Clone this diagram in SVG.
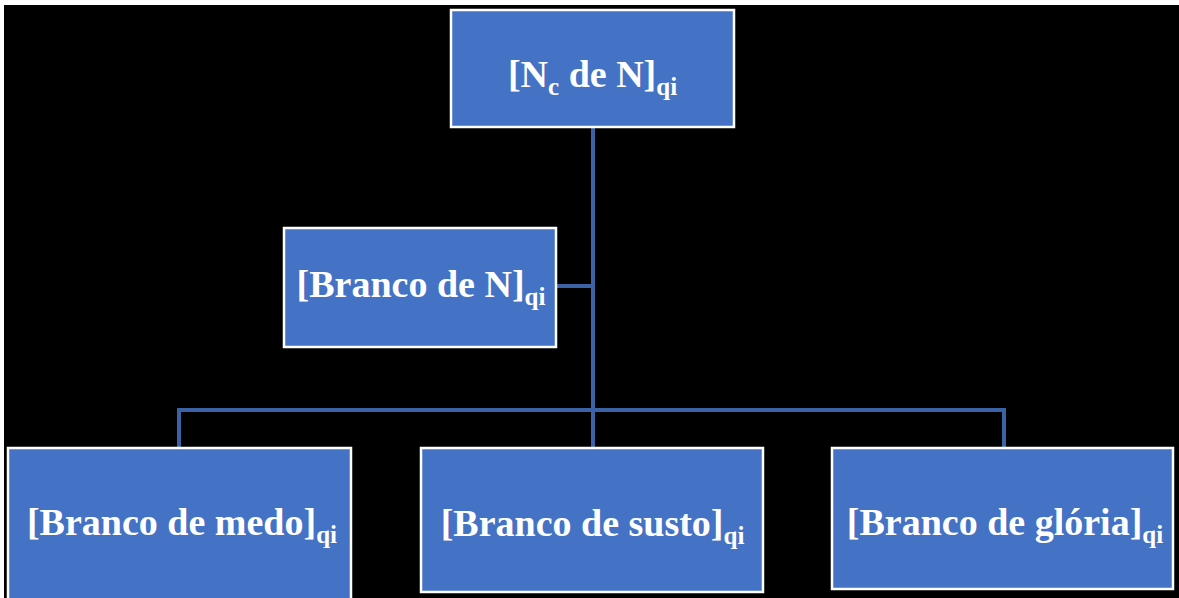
<svg xmlns="http://www.w3.org/2000/svg" width="1179" height="598" viewBox="0 0 1179 598">
<style>
.box{fill:#4472C4;stroke:#FFFFFF;stroke-width:2.5}
.lbl{font-family:"Liberation Serif","Times New Roman",serif;font-weight:bold;font-size:38px;fill:#FFFFFF;text-anchor:middle}
.sub{font-size:25px}
.conn{fill:none;stroke:#3A62A7;stroke-width:4}
</style>
<rect x="0" y="0" width="1179" height="598" fill="#000000"/>
<rect x="0" y="0" width="1179" height="5" fill="#FFFFFF"/>
<rect x="0" y="0" width="4" height="598" fill="#FFFFFF"/>
<g id="connectors">
<path class="conn" d="M593 127 V447"/>
<path class="conn" d="M557 286 H593"/>
<path class="conn" d="M179 447 V410 H1004 V447"/>
</g>
<g id="node-top">
<rect class="box" x="451" y="10" width="283" height="117"/>
<text class="lbl" x="592.5" y="87">[N<tspan class="sub" dy="8">c</tspan><tspan dy="-8"> de N]</tspan><tspan class="sub" dy="8">qi</tspan></text>
</g>
<g id="node-branco-n">
<rect class="box" x="284" y="228" width="272" height="119"/>
<text class="lbl" x="421" y="297">[Branco de N]<tspan class="sub" dy="8">qi</tspan></text>
</g>
<g id="node-medo">
<rect class="box" x="8" y="448" width="343" height="160"/>
<text class="lbl" x="182" y="535">[Branco de medo]<tspan class="sub" dy="8">qi</tspan></text>
</g>
<g id="node-susto">
<rect class="box" x="421" y="448" width="342" height="144"/>
<text class="lbl" x="592.5" y="536">[Branco de susto]<tspan class="sub" dy="8">qi</tspan></text>
</g>
<g id="node-gloria">
<rect class="box" x="832" y="448" width="341" height="141"/>
<text class="lbl" x="1005" y="535">[Branco de glória]<tspan class="sub" dy="8">qi</tspan></text>
</g>
</svg>
